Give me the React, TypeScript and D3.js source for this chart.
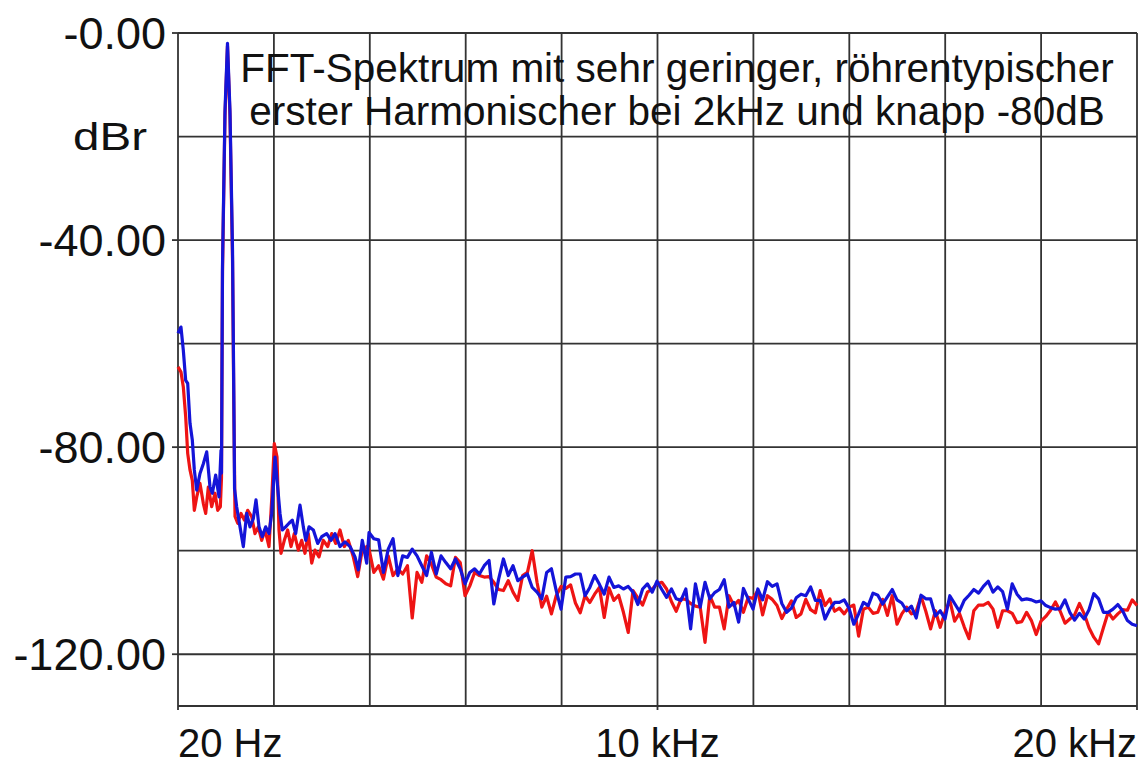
import React from "react";
import * as d3 from "d3";

// spectrum below 4 kHz, read as [Hz, dBr] pairs (finer where the peaks are)
const lowBlue: [number, number][] = [
  [20, -58], [82, -56.8], [131, -61.3], [180, -67.1], [222, -67.7], [270, -75.4],
  [318, -78.6], [360, -84.4], [410, -88.3], [478, -85.1], [548, -83.2], [618, -80.9],
  [687, -87.7], [735, -88.9], [805, -85.4], [874, -89.6], [916, -80.6], [926, -85],
  [947, -45], [999, -15], [1051, -2], [1103, -15], [1156, -42], [1183, -70], [1198, -88],
  [1242, -91.5], [1312, -95.4], [1381, -99.2], [1451, -92.8], [1520, -95.4], [1589, -93.8],
  [1645, -90.2], [1708, -95.4], [1776, -97.3], [1847, -95.4], [1916, -96.7], [1972, -92.8],
  [2041, -81.9], [2096, -87.7], [2145, -92.8], [2193, -96], [2263, -95.4], [2333, -94.7],
  [2401, -94.1], [2472, -96.7], [2562, -91.2], [2631, -95.4], [2681, -98], [2750, -95.4],
  [2840, -96], [2931, -98.6], [3014, -97.3], [3118, -96.7], [3208, -98], [3291, -96.7],
  [3395, -99.2], [3499, -98.3], [3604, -99.2], [3708, -101.2], [3777, -103.7], [3860, -98],
  [3952, -102.4],
];

const lowRed: [number, number][] = [
  [20, -64.5], [82, -65.5], [131, -68.4], [180, -74.1], [222, -81.2], [270, -84.4],
  [318, -86.4], [360, -92.2], [410, -89.6], [478, -87], [548, -90.9], [597, -92.8],
  [652, -87.7], [722, -91.5], [791, -88.9], [847, -92.2], [902, -91.5], [926, -86],
  [947, -46], [999, -16], [1051, -2.5], [1103, -16], [1156, -44], [1183, -72], [1208, -93.4],
  [1264, -94.7], [1333, -92.8], [1402, -94.1], [1472, -92.2], [1555, -93.4], [1624, -96.7],
  [1693, -95.4], [1764, -98], [1833, -96], [1916, -99.2], [1972, -90.2], [2026, -79.3],
  [2083, -81.9], [2124, -96], [2166, -100.5], [2235, -98], [2305, -96], [2374, -99.2],
  [2443, -96.7], [2527, -99.9], [2597, -98], [2666, -100.5], [2735, -96.7], [2806, -102.4],
  [2874, -99.9], [2958, -101.2], [3047, -98], [3139, -99.2], [3222, -96.7], [3305, -98.6],
  [3395, -96], [3485, -99.2], [3568, -98], [3672, -101.2], [3764, -105], [3847, -100.5],
  [3952, -99.2],
];

// 4 kHz .. 20 kHz, one value per 100 Hz bin
const highStartHz = 4000;
const highStepHz = 100;

const highBlue = [
  -96.5, -97.7, -97.9, -104.2, -99.7, -97.7, -104.8, -101, -101.3, -99.7,
  -101, -102.9, -104.8, -100.3, -104.5, -101, -102.3, -103.5, -101.6, -103.5,
  -106.4, -104.2, -103.5, -104.5, -102.9, -101.9, -110.3, -105.5, -101.6, -104.8,
  -102.9, -105.8, -105.1, -104.5, -107.1, -108, -109.3, -104.2, -103.5, -107.7,
  -111.3, -105.1, -105, -104.5, -104.5, -108.7, -107.1, -104.8, -106.5, -108.4,
  -105.1, -107.1, -106.8, -107.4, -106.9, -108, -110.4, -107.4, -106.4, -108,
  -105.9, -107.5, -109, -107.4, -109.3, -109.6, -107.4, -115.1, -106.4, -110.9,
  -106.1, -109.3, -108.1, -107.5, -105.6, -110.9, -110, -113.8, -107.3, -109.3,
  -111.3, -107.4, -109.5, -106, -106.9, -106.4, -110.2, -111.9, -111.1, -109.1,
  -108.4, -108.7, -107, -109.6, -109.6, -113.2, -111.3, -110, -110, -109.5,
  -111.1, -114.2, -112.2, -110, -110.6, -108.2, -108.6, -110.3, -108.9, -107.5,
  -109.5, -110.1, -111.6, -110.7, -113, -108.6, -109.3, -109.3, -112.6, -111.6,
  -113.2, -108.7, -110.2, -111.7, -109.6, -108.6, -107.5, -108.2, -106.9, -105.9,
  -108, -107, -107.9, -111.3, -106.4, -108.4, -109.5, -109.3, -109.5, -109.9,
  -109.7, -110.6, -111, -111.3, -111.2, -109.5, -111.9, -113.4, -112.1, -113.2,
  -111.4, -108.3, -109.3, -111.9, -111.9, -111.3, -110.4, -111.6, -113.5, -114.2,
  -114.5,
];

const highRed = [
  -99.7, -104.2, -102.9, -105.5, -101, -104.8, -103.5, -104.5, -102.9, -113,
  -104.2, -106.1, -101, -102.6, -105.1, -105.6, -106.4, -106.8, -101.3, -102.3,
  -108.7, -106.8, -104.2, -104.8, -105.1, -105, -106.1, -107.5, -107.7, -105.8,
  -108, -109.6, -104.8, -104.2, -100, -106.1, -110.9, -108.8, -112.2, -108.7,
  -106.9, -107.3, -106.6, -110.1, -112, -108.7, -110, -108.4, -107.1, -112.9,
  -107.2, -109.6, -108.6, -111.9, -115.8, -107.7, -109.1, -110.5, -108, -107.4,
  -106.4, -106.1, -107.4, -109.8, -111.7, -109.3, -109.4, -110.2, -110.7, -110.9,
  -117.7, -108.7, -110.9, -110.9, -115.1, -108.7, -110.6, -109.6, -111.9, -109,
  -109.2, -107.7, -112.4, -108.7, -109.4, -110.6, -113.1, -111.3, -109.7, -112.9,
  -112.2, -109.4, -111.4, -112, -107.7, -110.6, -109.3, -111.7, -111.1, -112.2,
  -110.9, -110.5, -116.5, -111.3, -110.9, -112.1, -111.9, -109.4, -112.5, -108.7,
  -114.2, -112.2, -110.9, -112.2, -111.7, -108.8, -111.7, -115.1, -111.6, -114.8,
  -111.9, -109.6, -113.6, -112.1, -114.7, -117, -111.6, -110.5, -110.5, -110,
  -111.3, -114.8, -111.6, -111.6, -112.1, -113.9, -113.7, -111.9, -113.5, -116.2,
  -113.6, -112.7, -111.5, -109.9, -111.7, -114, -113.2, -112.4, -110.2, -112.2,
  -114.9, -116.7, -118, -114.9, -111.9, -113.2, -112.2, -111.4, -111.5, -109.5,
  -110.6,
];

const yLabels = [0, -40, -80, -120];
const xLabels: { hz: number; text: string; anchor: string }[] = [
  { hz: 20, text: "20 Hz", anchor: "start" },
  { hz: 10010, text: "10 kHz", anchor: "middle" },
  { hz: 20000, text: "20 kHz", anchor: "end" },
];
const titleLines = [
  "FFT-Spektrum mit sehr geringer, röhrentypischer",
  "erster Harmonischer bei 2kHz und knapp -80dB",
];

const W = 1145;
const H = 765;
const plot = { left: 178, right: 1137, top: 33, bottom: 706 };
const font = "'Liberation Sans', Arial, sans-serif";

const toSeries = (low: [number, number][], high: number[]) =>
  low.concat(high.map((v, i) => [highStartHz + i * highStepHz, v] as [number, number]));

export default function App() {
  const x = d3.scaleLinear().domain([20, 20000]).range([plot.left, plot.right]);
  const y = d3.scaleLinear().domain([-130, 0]).range([plot.bottom, plot.top]);

  const line = d3
    .line<[number, number]>()
    .x((d) => x(d[0]))
    .y((d) => y(d[1]));

  const red = toSeries(lowRed, highRed);
  const blue = toSeries(lowBlue, highBlue);

  // 10 equal vertical divisions, horizontal grid every 20 dB
  const xGrid = d3.range(0, 11).map((i) => plot.left + (i * (plot.right - plot.left)) / 10);
  const yGrid = d3.range(-120, 1, 20);
  const gridColor = "#333";

  return (
    <div style={{ position: "absolute", left: 0, top: 0 }}>
      <svg width={W} height={H} style={{ display: "block", background: "#fff" }}>
        <g stroke={gridColor} strokeWidth={1.8}>
          {xGrid.map((gx, i) => (
            <line key={"vx" + i} x1={gx} x2={gx} y1={plot.top} y2={plot.bottom} />
          ))}
          {yGrid.map((v) => (
            <line key={"hy" + v} x1={plot.left} x2={plot.right} y1={y(v)} y2={y(v)} />
          ))}
          <line x1={plot.left} x2={plot.right} y1={plot.bottom} y2={plot.bottom} />
          {yLabels.map((v) => (
            <line key={"ty" + v} x1={plot.left - 6} x2={plot.left} y1={y(v)} y2={y(v)} />
          ))}
          {xLabels.map((d) => (
            <line key={"tx" + d.hz} x1={x(d.hz)} x2={x(d.hz)} y1={plot.bottom} y2={plot.bottom + 4} />
          ))}
        </g>

        <path d={line(red) ?? ""} fill="none" stroke="#ee1414" strokeWidth={3.2} strokeLinejoin="round" />
        <path d={line(blue) ?? ""} fill="none" stroke="#1414d8" strokeWidth={3.2} strokeLinejoin="round" />

        <g fontFamily={font} fill="#111">
          {yLabels.map((v) => (
            <text key={"ly" + v} x={166} y={y(v)} dy="0.36em" fontSize={45} textAnchor="end">
              {"-" + Math.abs(v).toFixed(2)}
            </text>
          ))}
          <text x={73} y={150} fontSize={39} textLength={74} lengthAdjust="spacingAndGlyphs">
            dBr
          </text>
          {xLabels.map((d) => (
            <text key={"lx" + d.hz} x={x(d.hz)} y={757} fontSize={40} textAnchor={d.anchor}>
              {d.text}
            </text>
          ))}
          {titleLines.map((t, i) => (
            <text key={"t" + i} x={677} y={82 + i * 43} fontSize={40.5} textAnchor="middle">
              {t}
            </text>
          ))}
        </g>
      </svg>
    </div>
  );
}
